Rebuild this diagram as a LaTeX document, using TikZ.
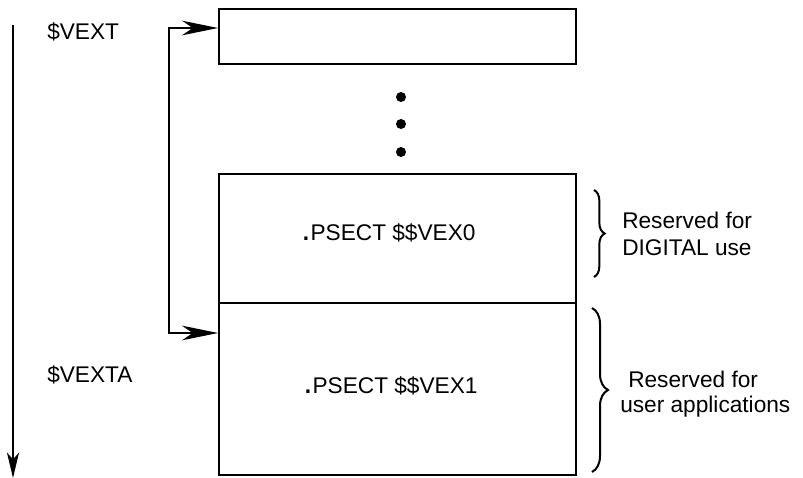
\documentclass[tikz,border=0pt]{standalone}
\usepackage{fontspec}
\setmainfont{Liberation Sans}
\usetikzlibrary{arrows.meta,decorations.pathreplacing}
\begin{document}
\begin{tikzpicture}[x=0.75pt,y=-0.75pt,
  membox/.style={draw,line width=1.6pt,rectangle,anchor=north west,inner sep=0pt,minimum width=267.75pt},
  lbl/.style={anchor=base west,inner sep=0pt,font=\fontsize{17}{20}\selectfont},
  bigdot/.style={},
  conn/.style={line width=1.3pt,{Stealth[length=27pt,width=11pt,inset=8pt]}-{Stealth[length=27pt,width=11pt,inset=8pt]}},
  brc/.style={line width=1.5pt,decorate,decoration={brace,amplitude=8pt}},
  dotmark/.style={circle,fill,inner sep=0pt,minimum size=7.5pt}]
\useasboundingbox (0,0) rectangle (803,478);
% memory boxes
\node[membox,minimum height=41.25pt] (top) at (218,8) {};
\node[membox,minimum height=96.75pt] (mid) at (218,173) {};
\node[membox,minimum height=129pt] (low) at (218,302) {};
% ellipsis dots
\node[dotmark] (d1) at (401,97) {};
\node[dotmark] (d2) at (401,124) {};
\node[dotmark] (d3) at (401,152) {};
% direction arrow on the left
\coordinate (atop) at (13,25);
\coordinate (abot) at (13,478);
\draw[line width=1.6pt,-{Stealth[length=19pt,width=9pt,inset=5pt]}] (atop) -- (abot);
% connector
\coordinate (turn1) at (169,28);
\coordinate (turn2) at (169,333);
\draw[conn] (top.west |- turn1) -- (turn1) -- (turn2) -- (low.west |- turn2);
% labels
\node[lbl] (vext) at (47,40) {\$VEXT};
\node[lbl] (vexta) at (47,382) {\$VEXTA};
\node[lbl] (ps0) at (301,240) {{\fontsize{25}{20}\selectfont.}PSECT \$\$VEX0};
\node[lbl] (ps1) at (303,393) {{\fontsize{25}{20}\selectfont.}PSECT \$\$VEX1};
% braces
\coordinate (b1a) at (594,190);
\coordinate (b1b) at (594,277);
\draw[brc] (b1a) -- (b1b);
\coordinate (b2a) at (592,308);
\coordinate (b2b) at (592,472);
\draw[brc,decoration={amplitude=12pt}] (b2a) -- (b2b);
\node[lbl] (r1) at (622,228) {Reserved for};
\node[lbl] (r1b) at (622,255) {DIGITAL use};
\node[lbl] (r2) at (628,387) {Reserved for};
\node[lbl] (r2b) at (620,412) {user applications};
\end{tikzpicture}
\end{document}
